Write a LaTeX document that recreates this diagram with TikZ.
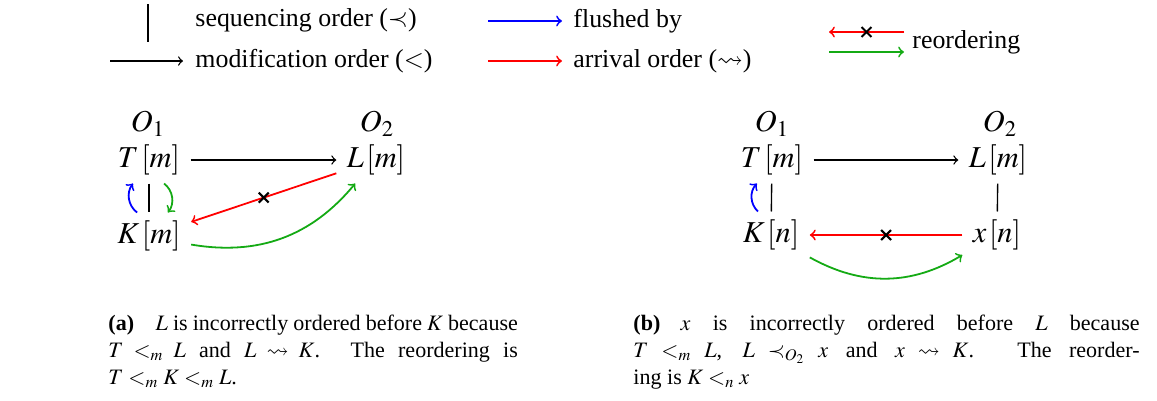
\documentclass[tikz,border=0pt]{standalone}
\usepackage{amsmath,amssymb}
\usepackage{mathptmx}
\usepackage{fontspec}
\setmainfont{Liberation Serif}
\usepackage{tikz}
\usepackage{xcolor}
\usetikzlibrary{shapes.misc}
\definecolor{rgreen}{RGB}{20,170,20}
\newcommand{\ev}[2]{#1\mkern1.5mu[#2]}

\begin{document}
\begin{tikzpicture}[x=0.4445pt,y=-0.4445pt,
  ev/.style={inner xsep=4.5pt,inner ysep=3.5pt,font=\fontsize{13.5}{16}\selectfont},
  obj/.style={inner sep=0pt,font=\fontsize{13.5}{16}\selectfont},
  seq/.style={semithick},
  mo/.style={semithick,->},
  fl/.style={thick,blue,->},
  ar/.style={thick,red,->},
  ro/.style={thick,rgreen,->},
  xmark/.style={cross out,draw=black,line width=0.9pt,inner sep=0pt,minimum size=3.5pt},
  lbl/.style={anchor=west,inner sep=0pt,text height=8.5pt,text depth=3pt,font=\fontsize{11.5}{14}\selectfont},
  captext/.style={anchor=base west,inner sep=0pt,align=justify,font=\fontsize{9.8}{12}\selectfont}]
\useasboundingbox (0,0) rectangle (1157,400);

% legend
\coordinate (s1) at (148,4); \coordinate (s2) at (148,42);
\draw[seq] (s1) -- (s2);
\node[lbl] (lseq) at (195,20) {sequencing order ($\prec$)};
\coordinate (m1) at (110,61); \coordinate (m2) at (183,61);
\draw[mo] (m1) -- (m2);
\node[lbl] (lmod) at (195,61) {modification order ($<$)};
\coordinate (f1) at (488,21); \coordinate (f2) at (562,21);
\draw[fl] (f1) -- (f2);
\node[lbl] (lfl) at (573,21) {flushed by};
\coordinate (a1) at (488,61); \coordinate (a2) at (562,61);
\draw[ar] (a1) -- (a2);
\node[lbl] (lar) at (573,61) {arrival order ($\leadsto$)};
\coordinate (r1) at (904,32); \coordinate (r2) at (829,32);
\draw[ar] (r1) -- (r2) node[xmark,pos=0.5]{};
\coordinate (g1) at (829,52); \coordinate (g2) at (904,52);
\draw[ro] (g1) -- (g2);
\node[lbl] (lro) at (912,42) {reordering};

% (a)
\node[obj] (O1a) at (148,124) {$O_1$};
\node[obj] (O2a) at (377,124) {$O_2$};
\node[ev] (Ta) at (149,160) {$\ev{T}{m}$};
\node[ev] (La) at (376,160) {$\ev{L}{m}$};
\node[ev] (Ka) at (149,236) {$\ev{K}{m}$};
\draw[mo] (Ta) -- (La);
\draw[seq] (Ta) -- (Ka);
\draw[fl] ([xshift=-5.3pt]Ka.north) to[bend left=45] ([xshift=-7.1pt]Ta.south);
\draw[ro] ([xshift=6.7pt]Ta.south) to[bend left=45] ([xshift=8.4pt]Ka.north);
\draw[ar] (La) -- (Ka) node[xmark,pos=0.5]{};
\draw[ro] (Ka) to[bend right=30] (La);

% (b)
\node[obj] (O1b) at (772,124) {$O_1$};
\node[obj] (O2b) at (1000,124) {$O_2$};
\node[ev] (Tb) at (772,160) {$\ev{T}{m}$};
\node[ev] (Lb) at (998,160) {$\ev{L}{m}$};
\node[ev] (Kb) at (771,235) {$\ev{K}{n}$};
\node[ev] (xb) at (997,235) {$\ev{x}{n}$};
\draw[mo] (Tb) -- (Lb);
\draw[seq] (Tb) -- (Kb);
\draw[seq] (Lb) -- (xb);
\draw[fl] ([xshift=-5.8pt]Kb.north) to[bend left=45] ([xshift=-6.7pt]Tb.south);
\draw[ar] (xb) -- (Kb) node[xmark,pos=0.5]{};
\draw[ro] (Kb) to[bend right=30] (xb);

% captions
\node[captext,text width=182pt] (capa) at (108,330) {\hangindent=21pt\hangafter=1\noindent\makebox[21pt][l]{\textbf{(a)}}$L$ is incorrectly ordered before $K$ because\linebreak $T <_m L$ and $L \leadsto K$. The reordering is\linebreak $T <_m K <_m L$.};
\node[captext,text width=225pt] (capb) at (633,330) {\hangindent=21pt\hangafter=1\noindent\makebox[21pt][l]{\textbf{(b)}}$x$ is incorrectly ordered before $L$ because\linebreak $T <_m L$, $L \prec_{O_2} x$ and $x \leadsto K$. The reorder-\linebreak ing is $K <_n x$};
\end{tikzpicture}
\end{document}
